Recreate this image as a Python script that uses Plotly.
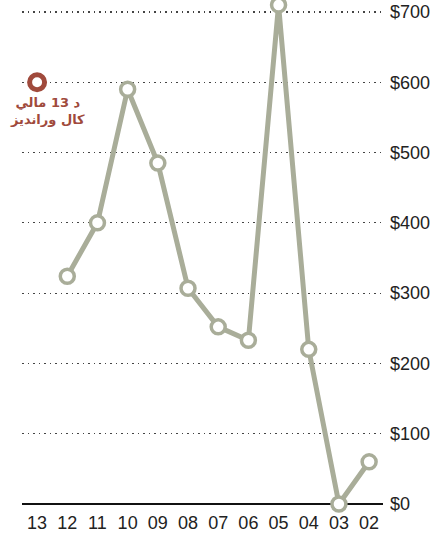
import plotly.graph_objects as go

# ---- data ----
years = ["13", "12", "11", "10", "09", "08", "07", "06", "05", "04", "03", "02"]
values = [None, 324, 400, 590, 485, 307, 252, 233, 710, 220, 0, 60]
proposal_year = ["13"]
proposal_value = [600]
y_tick_vals = [0, 100, 200, 300, 400, 500, 600, 700]
y_tick_text = ["$0", "$100", "$200", "$300", "$400", "$500", "$600", "$700"]
proposal_label = "د 13 مالي<br>کال وراندیز"

LINE = "#a9ad99"
RED = "#a04a3c"

fig = go.Figure()
fig.add_trace(go.Scatter(
    x=years, y=values, mode="lines+markers",
    line=dict(color=LINE, width=5),
    marker=dict(size=14, color="white", line=dict(color=LINE, width=3.5)),
    cliponaxis=False, hoverinfo="skip", showlegend=False,
))
fig.add_trace(go.Scatter(
    x=proposal_year, y=proposal_value, mode="markers",
    marker=dict(size=15, color="white", line=dict(color=RED, width=5)),
    cliponaxis=False, hoverinfo="skip", showlegend=False,
))

fig.add_annotation(
    x=years.index(proposal_year[0]), y=proposal_value[0], text=proposal_label,
    showarrow=False, xanchor="center", yanchor="top",
    xshift=10, yshift=-11, align="center",
    font=dict(family="DejaVu Sans", size=13, color=RED, weight="bold"),
)

fig.update_layout(
    width=445, height=535,
    margin=dict(l=22, r=62, t=0, b=31),
    plot_bgcolor="white", paper_bgcolor="white",
    xaxis=dict(
        type="category", categoryorder="array", categoryarray=years,
        range=[-0.5, 11.46], showgrid=False, zeroline=False, showline=False,
        ticks="", ticklabelstandoff=6,
        tickfont=dict(family="Liberation Sans Narrow, Arial Narrow, Liberation Sans", size=18, color="#222"),
        fixedrange=True,
    ),
    yaxis=dict(
        side="right", range=[0, 717],
        tickvals=y_tick_vals, ticktext=y_tick_text,
        showgrid=True, gridcolor="#444", griddash="1.5px,4px", gridwidth=1.2,
        zeroline=True, zerolinecolor="#111", zerolinewidth=2.5,
        showline=False, ticks="", ticklabelstandoff=6, ticklabeloverflow="allow",
        tickfont=dict(family="Liberation Sans, Arial", size=18, color="#222"),
        fixedrange=True,
    ),
)

fig.write_html(
    "out.html",
    config={"displayModeBar": False, "staticPlot": True},
    post_script="document.body.style.margin='0';document.body.style.overflow='hidden';",
)
